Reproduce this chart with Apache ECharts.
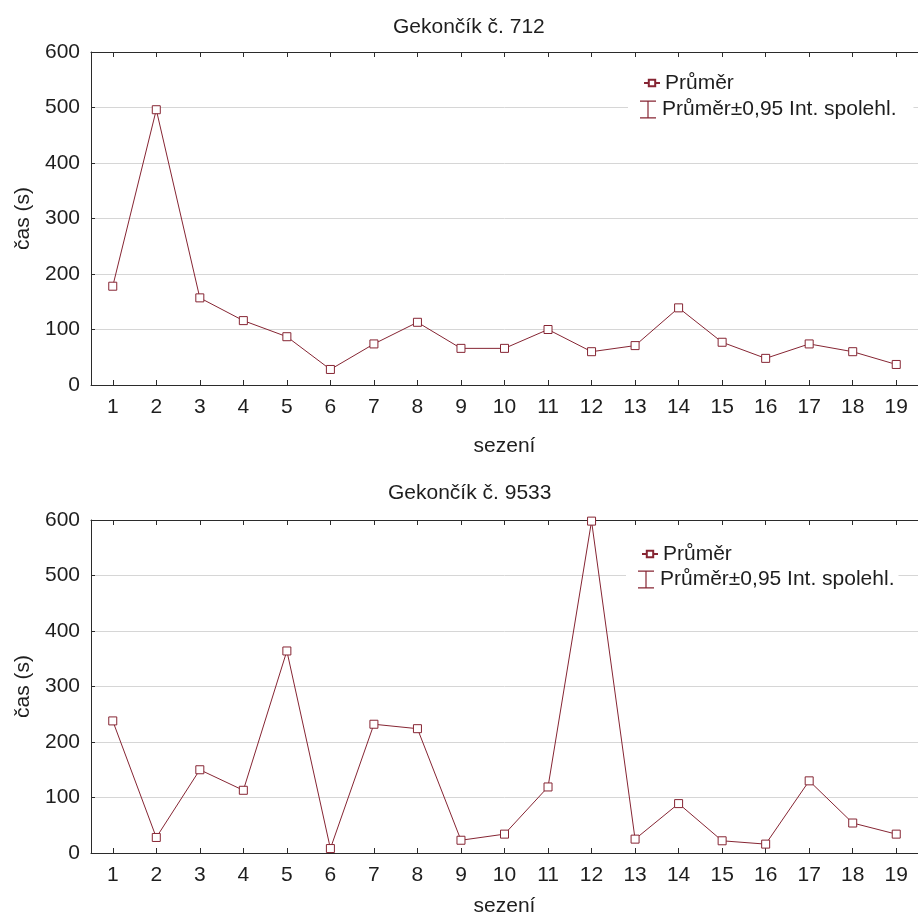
<!DOCTYPE html>
<html>
<head>
<meta charset="utf-8">
<script src="https://cdn.jsdelivr.net/npm/echarts@6/dist/echarts.min.js"></script>
<style>
html,body{margin:0;padding:0;background:#fff;}
#chart{width:918px;height:921px;}
</style>
</head>
<body>
<div id="chart"></div>
<script>
// ---- data ----
const sessions = ['1','2','3','4','5','6','7','8','9','10','11','12','13','14','15','16','17','18','19'];
const gecko712 = [178, 496, 157, 116, 87, 28, 74, 113, 66, 66, 100, 60, 71, 139, 77, 48, 74, 60, 37];
const gecko9533 = [238, 28, 150, 113, 364, 8, 232, 224, 23, 34, 119, 598, 25, 89, 22, 16, 130, 54, 34];
const titles = ['Gekončík č. 712', 'Gekončík č. 9533'];
const yMin = 0, yMax = 600, yStep = 100;
const xName = 'sezení';
const yName = 'čas (s)';
const meanName = 'Průměr';
const ciName = 'Průměr±0,95 Int. spolehl.';

// ---- styles ----
const FONT = 'Liberation Sans, Arial, sans-serif';
const FS = 21;
const TXT = '#1e1e1e';
const RED = '#862533';
const AX = '#2b2b2b';
const ibeam = 'path://M0,0H16V1.2H8.6V16.8H16V18H0V16.8H7.4V1.2H0Z';

const grids = [
  {left: 91, top: 52, width: 838, height: 333},
  {left: 91, top: 520, width: 832, height: 333}
];
const xNameGaps = [51, 43];

function xAxes(i) {
  return [
    {
      type: 'category', gridIndex: i, data: sessions, position: 'bottom',
      boundaryGap: true,
      axisLine: {show: true, lineStyle: {color: AX, width: 1}},
      axisTick: {show: true, inside: true, length: 5, alignWithLabel: true, lineStyle: {color: AX}},
      axisLabel: {margin: 12, fontSize: FS, color: TXT, fontFamily: FONT, interval: 0},
      name: xName, nameLocation: 'middle', nameGap: xNameGaps[i],
      nameTextStyle: {fontSize: FS, color: TXT, fontFamily: FONT},
      splitLine: {show: false}
    },
    {
      type: 'category', gridIndex: i, data: sessions, position: 'top',
      boundaryGap: true,
      axisLine: {show: true, lineStyle: {color: AX, width: 1}},
      axisTick: {show: true, inside: true, length: 5, alignWithLabel: true, lineStyle: {color: AX}},
      axisLabel: {show: false},
      splitLine: {show: false}
    }
  ];
}
function yAxis(i) {
  return {
    type: 'value', gridIndex: i, min: yMin, max: yMax, interval: yStep,
    axisLine: {show: true, lineStyle: {color: AX, width: 1}},
    axisTick: {show: true, inside: true, length: 4, lineStyle: {color: AX}},
    axisLabel: {margin: 11, fontSize: FS, color: TXT, fontFamily: FONT},
    splitLine: {show: true, lineStyle: {color: '#d6d6d6', width: 1}},
    name: yName, nameLocation: 'middle', nameGap: 57, nameRotate: 90,
    nameTextStyle: {fontSize: FS, color: TXT, fontFamily: FONT}
  };
}
function meanSeries(i, values) {
  return {
    type: 'line', name: meanName, xAxisIndex: i * 2, yAxisIndex: i,
    data: values,
    symbol: 'rect', symbolSize: 8, showAllSymbol: true,
    lineStyle: {color: RED, width: 1},
    itemStyle: {color: '#ffffff', borderColor: RED, borderWidth: 1},
    emphasis: {disabled: true},
    z: 3
  };
}
function legends(left1, top1, left2, top2, padR) {
  return [
    {
      orient: 'vertical', left: left1, top: top1, padding: 0,
      itemWidth: 16, itemHeight: 8, itemGap: 0,
      selectedMode: false, backgroundColor: '#ffffff',
      textStyle: {fontSize: FS, color: TXT, fontFamily: FONT},
      data: [meanName]
    },
    {
      orient: 'vertical', left: left2, top: top2, padding: [2, padR, 2, 12],
      itemWidth: 18, itemHeight: 18, itemGap: 0,
      selectedMode: false, backgroundColor: '#ffffff',
      textStyle: {fontSize: FS, color: TXT, fontFamily: FONT},
      data: [{name: ciName, icon: ibeam, itemStyle: {color: RED, borderWidth: 0}}]
    }
  ];
}

const chart = echarts.init(document.getElementById('chart'), null, {renderer: 'canvas'});
chart.setOption({
  animation: false,
  backgroundColor: '#ffffff',
  title: [
    {text: titles[0], left: 393, top: 17, padding: 0,
     textStyle: {fontSize: FS, fontWeight: 'normal', color: TXT, fontFamily: FONT}},
    {text: titles[1], left: 388, top: 483, padding: 0,
     textStyle: {fontSize: FS, fontWeight: 'normal', color: TXT, fontFamily: FONT}}
  ],
  legend: [].concat(
    legends(643, 72.5, 628, 97, 17),
    legends(641, 543.5, 626, 567, 4)
  ),
  grid: grids,
  xAxis: [].concat(xAxes(0), xAxes(1)),
  yAxis: [yAxis(0), yAxis(1)],
  series: [
    meanSeries(0, gecko712),
    meanSeries(1, gecko9533),
    {type: 'line', name: ciName, xAxisIndex: 0, yAxisIndex: 0, data: [],
     itemStyle: {color: RED}, lineStyle: {color: RED}}
  ]
});
</script>
</body>
</html>
